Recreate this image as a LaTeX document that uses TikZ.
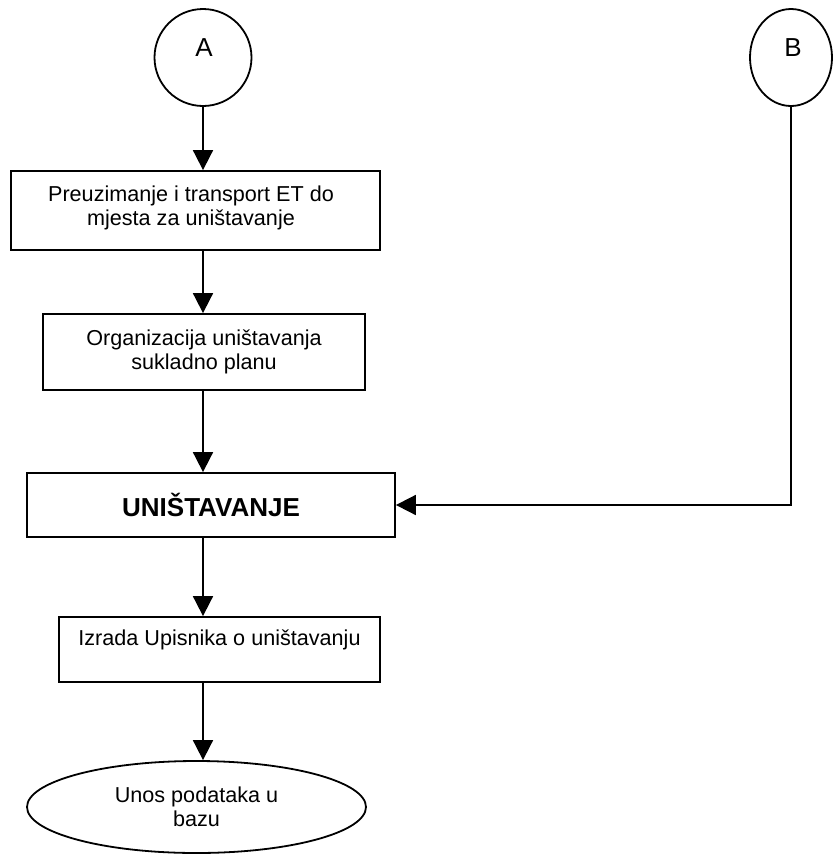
\documentclass[tikz,border=0pt]{standalone}
\usepackage{fontspec}
\setmainfont{Liberation Sans}
\usetikzlibrary{arrows.meta,shapes.geometric}
\tikzset{
  every node/.style={font=\fontsize{21.6}{24.5}\selectfont},
  ln/.style={line width=1.8pt},
  boxnode/.style={ln, draw, rectangle, inner sep=0pt, align=center},
  circnode/.style={ln, draw, ellipse, inner sep=0pt},
  lbl/.style={inner sep=0pt, font=\fontsize{26}{28}\selectfont},
  arr/.style={ln, -{Triangle[width=20pt,length=20pt]}}
}
\begin{document}
\begin{tikzpicture}[x=1pt,y=-1pt]
\useasboundingbox (0,0) rectangle (835,855);
% start circles
\node[circnode, minimum width=97pt, minimum height=97pt] (A) at (203,57.5) {};
\node[lbl] (Alab) at (204,47.5) {A};
\node[circnode, minimum width=82pt, minimum height=97pt] (B) at (791,57.5) {};
\node[lbl] (Blab) at (793,48) {B};
% boxes
\node[boxnode, minimum width=369pt, minimum height=79pt] (b1) at (195.5,210.5) {};
\node[align=center, inner sep=0pt] (b1t) at (191,208) {Preuzimanje i transport ET do\\mjesta za uništavanje};
\node[boxnode, minimum width=322pt, minimum height=76pt] (b2) at (204,352) {Organizacija uništavanja\\sukladno planu};
\node[boxnode, minimum width=368pt, minimum height=64pt, font=\fontsize{26}{28}\selectfont\bfseries] (b3) at (211,505) {UNIŠTAVANJE};
\node[boxnode, minimum width=321pt, minimum height=65pt] (b4) at (219.5,649.5) {};
\node[inner sep=0pt] (b4t) at (219.5,640) {Izrada Upisnika o uništavanju};
\node[circnode, minimum width=339pt, minimum height=92pt, align=center] (el) at (196.5,807) {Unos podataka u\\bazu};
% connectors
\coordinate (col) at (203,0);
\draw[arr] (A.south) -- (A.south |- b1.north);
\draw[arr] (b1.south -| col) -- (b2.north -| col);
\draw[arr] (b2.south -| col) -- (b3.north -| col);
\draw[arr] (b3.south -| col) -- (b4.north -| col);
\draw[arr] (b4.south -| col) -- (el.north -| col);
\draw[arr] (B.south) |- (b3.east);
\end{tikzpicture}
\end{document}
